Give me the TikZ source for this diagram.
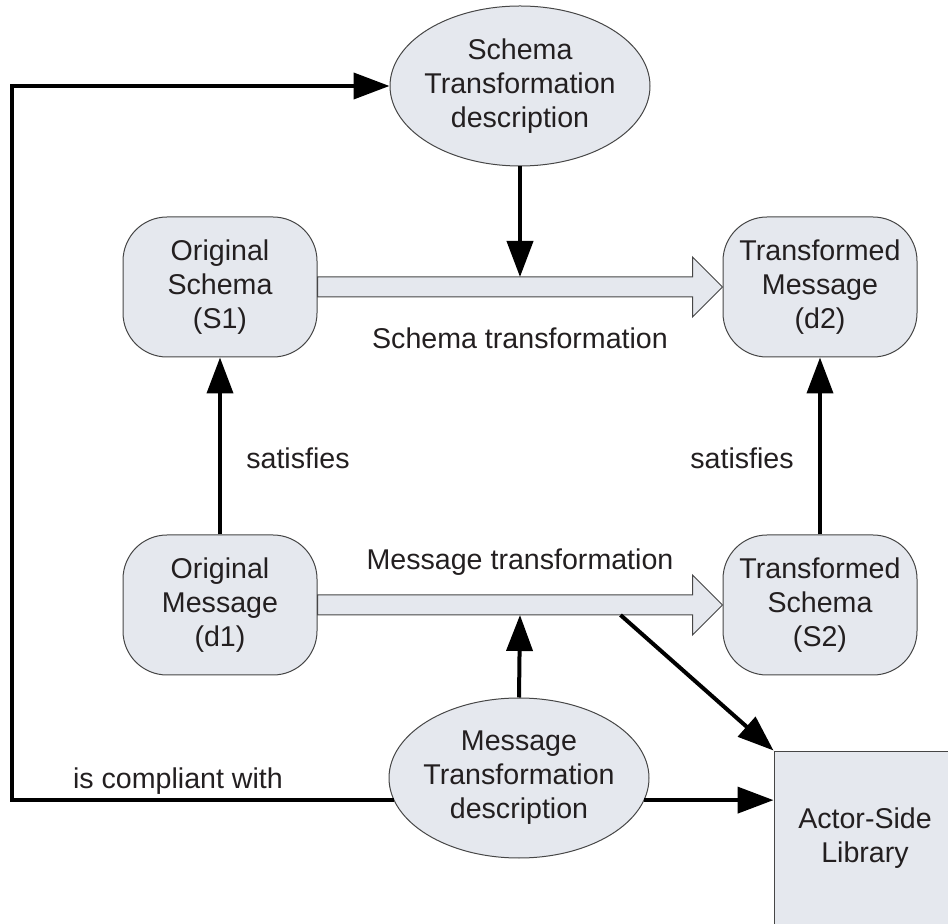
\documentclass[tikz,border=0pt]{standalone}
\usepackage{fontspec}
\setmainfont{Liberation Sans}
\usetikzlibrary{arrows.meta,shapes.geometric,calc}

\definecolor{boxfill}{RGB}{229,232,238}
\definecolor{boxline}{RGB}{70,70,70}
\definecolor{txt}{RGB}{35,31,32}

\tikzset{
  box/.style={draw=boxline, fill=boxfill, line width=0.5pt, rounded corners=22pt,
    minimum width=97pt, minimum height=70pt, align=center},
  desc/.style={ellipse, draw=boxline, fill=boxfill, line width=0.5pt, align=center,
    inner xsep=-4pt, inner ysep=0pt, minimum width=130pt, minimum height=80pt},
  libbox/.style={draw=boxline, fill=boxfill, line width=0.5pt, align=center,
    minimum width=91pt, minimum height=87pt},
  arr/.style={line width=2pt, -{Triangle[length=18pt,width=13pt]}},
  fat/.style={draw=boxline, fill=boxfill, line width=0.5pt},
}

\begin{document}
\begin{tikzpicture}[x=0.5pt, y=-0.5pt,
    every node/.style={font=\fontsize{14.3pt}{17pt}\selectfont, text=txt}]
  \useasboundingbox (0,0) rectangle (948,924);
  \clip (0,0) rectangle (948,924);

  % schemas and messages
  \node[box] (s1) at (220,287) {Original\\Schema\\(S1)};
  \node[box] (d2) at (820,287) {Transformed\\Message\\(d2)};
  \node[box] (d1) at (220,605) {Original\\Message\\(d1)};
  \node[box] (s2) at (820,605) {Transformed\\Schema\\(S2)};

  % transformation descriptions
  \node[desc] (sdesc) at (520,86) {Schema\\Transformation\\description};
  \node[desc] (mdesc) at (519,778) {Message\\Transformation\\description};

  % library, cut off by the page edge
  \node[libbox] (asl) at (865,838) {Actor-Side\\Library};

  % wide hollow arrows
  \draw[fat] ($(s1.east)+(0,-10)$) -- ($(d2.west)+(-30,-10)$) -- ($(d2.west)+(-30,-30)$)
    -- (d2.west) -- ($(d2.west)+(-30,30)$) -- ($(d2.west)+(-30,10)$) -- ($(s1.east)+(0,10)$) -- cycle;
  \draw[fat] ($(d1.east)+(0,-10)$) -- ($(s2.west)+(-30,-10)$) -- ($(s2.west)+(-30,-30)$)
    -- (s2.west) -- ($(s2.west)+(-30,30)$) -- ($(s2.west)+(-30,10)$) -- ($(d1.east)+(0,10)$) -- cycle;

  \coordinate (stop) at ($(s1.east)!0.5!(d2.west)+(0,-10)$);
  \coordinate (mbot) at ($(d1.east)!0.5!(s2.west)+(0,10)$);
  \coordinate (mtap) at ($(d1.east)+(303,10)$);
  \coordinate (loopx) at (12,450);

  % labels
  \node (stlabel) at (520,338) {Schema transformation};
  \node (mtlabel) at (520,562) {Message transformation};
  \node (sat1) at (298,458) {satisfies};
  \node (sat2) at (742,458) {satisfies};
  \node (cplabel) at (178,781) {is compliant with};

  % connectors
  \draw[arr] (sdesc.south) -- (stop);
  \draw[arr] (mdesc.north) -- (mbot);
  \draw[arr] (d1) -- (s1);
  \draw[arr] (s2) -- (d2);
  \draw[arr] (mdesc.190) -- (mdesc.190 -| loopx) |- (sdesc.west);
  \draw[arr] (mdesc.350) -- (mdesc.350 -| asl.west);
  \draw[arr] (mtap) -- (asl.north west);
\end{tikzpicture}
\end{document}
